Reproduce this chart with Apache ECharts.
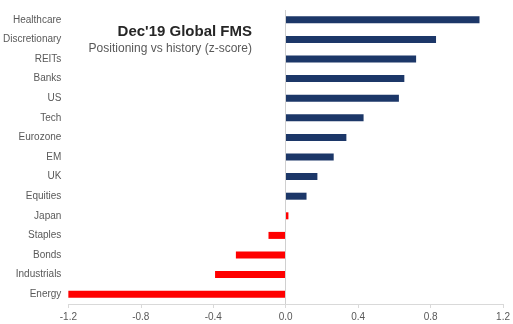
<!DOCTYPE html>
<html>
<head>
<meta charset="utf-8">
<script src="https://cdn.jsdelivr.net/npm/echarts@6/dist/echarts.min.js"></script>
<style>
html,body{margin:0;padding:0;background:#fff;}
#chart{width:513px;height:324px;}
</style>
</head>
<body>
<div id="chart"></div>
<script>
var categories = ['Healthcare','Discretionary','REITs','Banks','US','Tech','Eurozone','EM','UK','Equities','Japan','Staples','Bonds','Industrials','Energy'];
var values = [1.07, 0.83, 0.72, 0.655, 0.625, 0.43, 0.335, 0.265, 0.175, 0.115, 0.015, -0.095, -0.275, -0.39, -1.2];
var redGroup = ['Japan','Staples','Bonds','Industrials','Energy'];
var titleText = "Dec'19 Global FMS";
var subtitleText = 'Positioning vs history (z-score)';

var NAVY = '#1c3768';
var RED = '#ff0000';

var chart = echarts.init(document.getElementById('chart'), null, {renderer:'canvas'});
var data = categories.map(function(c, i){
  return {value: values[i], itemStyle: {color: redGroup.indexOf(c) >= 0 ? RED : NAVY}};
});
chart.setOption({
  animation: false,
  backgroundColor: '#ffffff',
  grid: {left: 67, right: 9, top: 10, bottom: 20, containLabel: false},
  xAxis: {
    type: 'value', min: -1.2, max: 1.2, interval: 0.4,
    axisLine: {show: true, lineStyle: {color: '#d9d9d9', width: 1}},
    axisTick: {show: true, length: 4, lineStyle: {color: '#d9d9d9'}},
    splitLine: {show: false},
    axisLabel: {color: '#595959', fontSize: 10, fontFamily: 'Liberation Sans, Arial, sans-serif', margin: 8,
      formatter: function(v){ return (Math.abs(v) < 1e-9 ? 0 : v).toFixed(1); }}
  },
  yAxis: {
    type: 'category', data: categories, inverse: true,
    axisLine: {show: false, onZero: false},
    axisTick: {show: false},
    axisLabel: {color: '#595959', fontSize: 10, fontFamily: 'Liberation Sans, Arial, sans-serif', margin: 7}
  },
  series: [{
    type: 'bar', data: data, barWidth: 7,
    markLine: {
      silent: true, symbol: 'none', label: {show: false},
      lineStyle: {color: '#d0d0d0', type: 'solid', width: 1},
      data: [{xAxis: 0}]
    }
  }],
  graphic: [
    {type: 'text', x: 252, y: 31.5, style: {text: titleText, textAlign: 'right', textVerticalAlign: 'middle',
      font: 'bold 15px "Liberation Sans", Arial, sans-serif', fill: '#262626'}},
    {type: 'text', x: 252, y: 48.5, style: {text: subtitleText, textAlign: 'right', textVerticalAlign: 'middle',
      font: '12px "Liberation Sans", Arial, sans-serif', fill: '#595959'}}
  ]
});
</script>
</body>
</html>
